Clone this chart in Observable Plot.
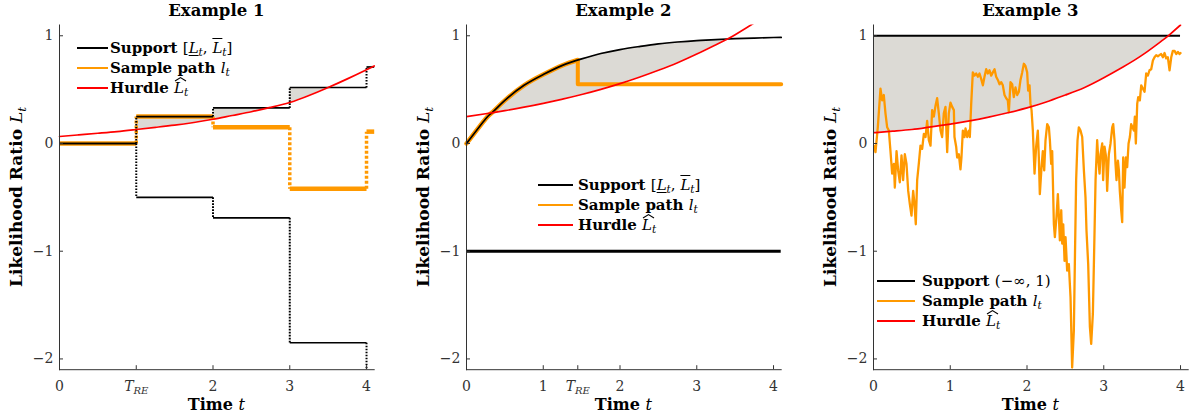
<!DOCTYPE html>
<html><head><meta charset="utf-8">
<script src="https://cdn.jsdelivr.net/npm/d3@7"></script>
<script src="https://cdn.jsdelivr.net/npm/@observablehq/plot@0.6"></script>
<style>
body{margin:0;background:#fff;width:1189px;height:420px;overflow:hidden;position:relative;font-family:"DejaVu Serif",serif;color:#000}
.panel{position:absolute;top:0}
.lbl{position:absolute;font-weight:bold;white-space:nowrap;line-height:18px}
.m{font-weight:normal}
.m i{font-style:italic}
.ul{font-style:italic;text-decoration:underline;text-decoration-thickness:1px;text-underline-offset:2px}
.ol{font-style:italic;text-decoration:overline;text-decoration-thickness:1px}
sub{font-size:0.7em;vertical-align:-0.3em;line-height:0;font-style:italic}
.hat{position:relative;display:inline-block;font-style:italic}
.hat svg{position:absolute;left:1px;top:-2px;width:11px;height:4px;overflow:visible}
.sw{position:absolute;height:2px}
</style>
</head><body>
<script>
// ---------- shared scales / ticks ----------
const xDomain = [0, 4.1];
const yDomain = [-2.1, 1.1];
const yTicks = [-2, -1, 0, 1];
const yTickLabels = ["−2", "−1", "0", "1"];
const titles = ["Example 1", "Example 2", "Example 3"];

// ---------- Example 1 ----------
const stepT1 = [0, 1, 2, 3, 4];
const stepEnd1 = 4.1;
const upper1 = [0, 0.25, 0.33, 0.52, 0.71];
const lower1 = [0, -0.5, -0.69, -1.85, -2.6];
const path1 = [0, 0.25, 0.15, -0.42, 0.11];
const hurdleT1 = [0, 0.25, 0.5, 0.75, 1, 1.25, 1.5, 1.75, 2, 2.25, 2.5, 2.75, 3, 3.25, 3.5, 3.75, 4, 4.1];
const hurdle1 = [0.065, 0.08, 0.095, 0.11, 0.13, 0.15, 0.17, 0.195, 0.225, 0.26, 0.295, 0.335, 0.38, 0.445, 0.52, 0.6, 0.685, 0.72];
const xTicks1 = [0, 1, 2, 3, 4];
const xTickLabels1 = ["0", "T_RE", "2", "3", "4"];

// ---------- Example 2 ----------
const gridT2 = [0, 0.25, 0.33, 0.5, 0.75, 1, 1.25, 1.5, 1.75, 2, 2.25, 2.5, 2.75, 3, 3.25, 3.4, 3.5, 3.75, 4, 4.1];
const upper2 = [0, 0.23, 0.285, 0.40, 0.54, 0.64, 0.725, 0.785, 0.835, 0.872, 0.90, 0.925, 0.942, 0.955, 0.965, 0.97, 0.973, 0.979, 0.984, 0.985];
const hurdle2 = [0.25, 0.276, 0.285, 0.305, 0.337, 0.373, 0.412, 0.455, 0.503, 0.556, 0.615, 0.68, 0.75, 0.83, 0.917, 0.97, 1.01, 1.12, 1.24, 1.29];
const lower2 = -1;
const tRE2 = 1.45;
const pathPeak2 = 0.775;
const pathLevel2 = 0.55;
const xTicks2 = [0, 1, 1.45, 2, 3, 4];
const xTickLabels2 = ["0", "1", "T_RE", "2", "3", "4"];

// ---------- Example 3 ----------
const upper3 = 1;
const endT3 = 4;
const hurdleT3 = [0, 0.25, 0.5, 0.75, 1, 1.25, 1.5, 1.75, 2, 2.25, 2.5, 2.75, 3, 3.25, 3.5, 3.75, 3.84, 4];
const hurdle3 = [0.10, 0.115, 0.13, 0.155, 0.18, 0.21, 0.245, 0.285, 0.33, 0.385, 0.45, 0.52, 0.61, 0.71, 0.82, 0.95, 1.0, 1.10];
const path3T = [0.004,0.026,0.056,0.091,0.113,0.134,0.156,0.178,0.2,0.221,0.243,0.265,0.278,0.3,0.321,0.343,0.365,0.386,0.408,0.43,0.452,0.473,0.495,0.517,0.534,0.551,0.569,0.59,0.612,0.634,0.656,0.678,0.699,0.721,0.743,0.764,0.786,0.808,0.829,0.851,0.873,0.894,0.916,0.938,0.96,0.981,1.003,1.025,1.047,1.055,1.077,1.09,1.112,1.133,1.146,1.164,1.185,1.199,1.221,1.242,1.255,1.273,1.294,1.316,1.338,1.36,1.381,1.403,1.425,1.446,1.468,1.49,1.511,1.533,1.555,1.577,1.598,1.62,1.642,1.663,1.685,1.707,1.729,1.75,1.763,1.785,1.807,1.828,1.85,1.872,1.894,1.915,1.937,1.959,1.98,2.002,2.015,2.033,2.045,2.059,2.076,2.098,2.119,2.141,2.154,2.167,2.189,2.206,2.224,2.241,2.263,2.285,2.298,2.315,2.328,2.35,2.363,2.384,2.402,2.415,2.428,2.446,2.459,2.472,2.489,2.502,2.523,2.545,2.567,2.588,2.61,2.623,2.64,2.658,2.675,2.697,2.719,2.741,2.762,2.775,2.797,2.819,2.836,2.858,2.88,2.893,2.914,2.927,2.945,2.958,2.98,2.992,3.01,3.031,3.044,3.066,3.088,3.11,3.123,3.14,3.153,3.166,3.184,3.197,3.209,3.227,3.24,3.253,3.27,3.288,3.305,3.323,3.34,3.357,3.375,3.392,3.405,3.418,3.436,3.449,3.47,3.488,3.509,3.531,3.553,3.574,3.596,3.618,3.64,3.661,3.683,3.705,3.726,3.748,3.77,3.792,3.813,3.835,3.857,3.879,3.9,3.922,3.944,3.966,3.987,4.0];
const path3Y = [-0.02,-0.08,0.15,0.51,0.40,0.45,0.28,0.15,0.12,-0.07,-0.28,-0.19,-0.41,-0.07,-0.25,-0.36,-0.11,-0.34,-0.10,-0.19,-0.44,-0.56,-0.67,-0.44,-0.56,-0.75,-0.34,-0.19,-0.02,-0.05,0.09,0.06,0.21,0.03,-0.02,0.31,0.25,0.35,0.42,0.28,0.12,0.06,0.28,0.34,-0.08,0.28,0.38,0.34,0.31,0.06,-0.03,-0.13,-0.10,-0.24,-0.13,0.12,0.06,0.14,0.06,0.12,0.06,0.37,0.66,0.63,0.65,0.62,0.65,0.60,0.54,0.62,0.69,0.65,0.68,0.63,0.66,0.69,0.62,0.59,0.55,0.57,0.54,0.45,0.42,0.40,0.29,0.57,0.55,0.43,0.52,0.45,0.48,0.59,0.66,0.74,0.72,0.66,0.49,0.54,0.37,0.31,0.12,-0.28,-0.03,0.12,-0.13,-0.47,-0.22,-0.07,-0.25,0.03,0.18,0.15,0.03,-0.19,-0.07,-0.75,-0.87,-0.68,-0.47,-0.68,-0.90,-0.62,-0.93,-0.75,-1.09,-0.87,-1.18,-1.12,-1.43,-2.08,-1.74,-1.12,-0.34,0.03,0.15,0.12,0.06,-0.25,-0.50,-0.81,-1.12,-1.70,-1.86,-1.58,-0.81,-0.34,0.03,-0.13,-0.28,-0.10,0.00,-0.34,-0.03,-0.13,-0.44,-0.10,0.00,0.15,0.18,0.03,-0.19,-0.34,-0.16,-0.25,-0.44,-0.62,-0.73,-0.13,-0.41,-0.13,-0.22,0.00,0.06,0.18,0.15,0.12,0.25,0.00,0.37,0.43,0.40,0.54,0.51,0.48,0.65,0.63,0.68,0.69,0.77,0.80,0.82,0.81,0.82,0.83,0.80,0.84,0.79,0.80,0.68,0.80,0.86,0.86,0.83,0.85,0.83,0.84];
const xTicks3 = [0, 1, 2, 3, 4];
const xTickLabels3 = ["0", "1", "2", "3", "4"];

// ---------- style ----------
const BLACK = "#000", ORANGE = "#ff9900", RED = "#ff0000", GRAY = "#dcdad5", AX = "#333";
const layout = [
  {left: 0, width: 396, ml: 59, mr: 22.3},
  {left: 396, width: 397, ml: 70, mr: 12.3},
  {left: 793, width: 396, ml: 80, mr: 1.3}
];
const MT = 24.5, MB = 50.8, H = 420;

function segs(vals, starts, end) {
  return vals.map((v, i) => ({x1: starts[i], x2: i < vals.length - 1 ? starts[i + 1] : end, y: v}));
}
function jumps(vals, starts) {
  return vals.slice(1).map((v, i) => ({x: starts[i + 1], y1: vals[i], y2: v}));
}
function stepAt(t, starts, vals) {
  let k = 0;
  starts.forEach((s, j) => { if (s <= t) k = j; });
  return vals[k];
}

// ---------- derived tables ----------
const area1 = [];
hurdleT1.forEach((t, i) => {
  const h = hurdle1[i];
  const k = stepT1.indexOf(t);
  if (k > 0) area1.push({t, y1: h, y2: Math.max(h, upper1[k - 1])});
  area1.push({t, y1: h, y2: Math.max(h, stepAt(t, stepT1, upper1))});
});
const hurdleData1 = hurdleT1.map((t, i) => ({t, y: hurdle1[i]}));

const upperData2 = gridT2.map((t, i) => ({t, y: upper2[i]}));
const hurdleData2 = gridT2.map((t, i) => ({t, y: hurdle2[i]}));
const area2 = gridT2.map((t, i) => ({t, y1: hurdle2[i], y2: Math.max(hurdle2[i], upper2[i])}));
const pathCurve2 = upperData2.filter(d => d.t < tRE2).concat([{t: tRE2, y: pathPeak2}]);
const pathStep2 = [{t: tRE2, y: pathPeak2}, {t: tRE2, y: pathLevel2}, {t: xDomain[1], y: pathLevel2}];

const hurdleData3 = hurdleT3.map((t, i) => ({t, y: hurdle3[i]}));
const area3 = hurdleT3.map((t, i) => ({t, y1: hurdle3[i], y2: Math.max(hurdle3[i], upper3)}));
const pathData3 = path3T.map((t, i) => ({t, y: path3Y[i]}));

const dotB = {stroke: BLACK, strokeWidth: 2, strokeDasharray: "1.6,1.4"};
const dotO = {stroke: ORANGE, strokeWidth: 3.5, strokeDasharray: "3,2"};

const marks1 = [
  Plot.areaY(area1, {x: "t", y1: "y1", y2: "y2", fill: GRAY}),
  Plot.link(segs(path1, stepT1, stepEnd1), {x1: "x1", x2: "x2", y1: "y", y2: "y", stroke: ORANGE, strokeWidth: 4.5}),
  Plot.link(jumps(path1, stepT1), {x1: "x", x2: "x", y1: "y1", y2: "y2", ...dotO}),
  Plot.link(jumps(upper1, stepT1), {x1: "x", x2: "x", y1: "y1", y2: "y2", ...dotB}),
  Plot.link(jumps(lower1, stepT1), {x1: "x", x2: "x", y1: "y1", y2: "y2", ...dotB, clip: true}),
  Plot.link(segs(upper1, stepT1, stepEnd1), {x1: "x1", x2: "x2", y1: "y", y2: "y", stroke: BLACK, strokeWidth: 1.7}),
  Plot.link(segs(lower1, stepT1, stepEnd1), {x1: "x1", x2: "x2", y1: "y", y2: "y", stroke: BLACK, strokeWidth: 1.7, clip: true}),
  Plot.line(hurdleData1, {x: "t", y: "y", stroke: RED, strokeWidth: 1.7, curve: "natural"})
];
const marks2 = [
  Plot.areaY(area2, {x: "t", y1: "y1", y2: "y2", fill: GRAY, clip: true}),
  Plot.ruleY([lower2], {stroke: BLACK, strokeWidth: 3}),
  Plot.line(pathCurve2, {x: "t", y: "y", stroke: ORANGE, strokeWidth: 4.5, curve: "natural"}),
  Plot.line(pathStep2, {x: "t", y: "y", stroke: ORANGE, strokeWidth: 4}),
  Plot.line(upperData2, {x: "t", y: "y", stroke: BLACK, strokeWidth: 1.7, curve: "natural"}),
  Plot.line(hurdleData2, {x: "t", y: "y", stroke: RED, strokeWidth: 1.7, curve: "natural", clip: true})
];
const marks3 = [
  Plot.areaY(area3, {x: "t", y1: "y1", y2: "y2", fill: GRAY}),
  Plot.ruleY([upper3], {x1: 0, x2: endT3, stroke: BLACK, strokeWidth: 2}),
  Plot.line(pathData3, {x: "t", y: "y", stroke: ORANGE, strokeWidth: 2.3, clip: true}),
  Plot.line(hurdleData3, {x: "t", y: "y", stroke: RED, strokeWidth: 1.7, curve: "natural", clip: true})
];

function panel(i, marks, xTicks, xLabels) {
  const L = layout[i];
  const xl = new Map(xTicks.map((v, j) => [v, xLabels[j]]));
  const yl = new Map(yTicks.map((v, j) => [v, yTickLabels[j]]));
  const svg = Plot.plot({
    width: L.width, height: H,
    marginLeft: L.ml, marginRight: L.mr, marginTop: MT, marginBottom: MB,
    x: {domain: xDomain},
    y: {domain: yDomain},
    style: {fontFamily: "DejaVu Serif", fontSize: "14px", color: AX, background: "transparent", overflow: "visible"},
    marks: [
      ...marks,
      Plot.frame({anchor: "left", stroke: AX}),
      Plot.frame({anchor: "bottom", stroke: AX}),
      Plot.axisX(xTicks, {tickSize: -4, tickPadding: 15, tickFormat: d => xl.get(d), label: null, stroke: AX, fill: AX}),
      Plot.axisY(yTicks, {tickSize: -4, tickPadding: 10, tickFormat: d => yl.get(d), label: null, stroke: AX, fill: AX})
    ]
  });
  svg.classList.add("panel");
  svg.style.left = L.left + "px";
  const ns = "http://www.w3.org/2000/svg";
  svg.querySelectorAll('g[aria-label="x-axis tick label"] text').forEach(el => {
    if (el.textContent === "T_RE") {
      el.textContent = "";
      const a = document.createElementNS(ns, "tspan");
      a.textContent = "T"; a.setAttribute("font-style", "italic");
      const b = document.createElementNS(ns, "tspan");
      b.textContent = "RE"; b.setAttribute("font-style", "italic");
      b.setAttribute("font-size", "10"); b.setAttribute("dy", "3");
      el.append(a, b);
    }
  });
  document.body.appendChild(svg);
  return svg;
}
panel(0, marks1, xTicks1, xTickLabels1);
panel(1, marks2, xTicks2, xTickLabels2);
panel(2, marks3, xTicks3, xTickLabels3);

// ---------- text overlays ----------
function addText(html, x, y, size, anchor, rotate) {
  const d = document.createElement("div");
  d.className = "lbl";
  d.innerHTML = html;
  d.style.fontSize = size + "px";
  d.style.left = x + "px";
  d.style.top = y + "px";
  const tx = anchor === "middle" ? "-50%" : "0";
  d.style.transform = `translate(${tx},-50%)` + (rotate ? " rotate(-90deg)" : "");
  document.body.appendChild(d);
}
const hatL = '<span class="hat">L<svg viewBox="0 0 10 4" preserveAspectRatio="none"><path d="M0,4 L5,0.6 L10,4" fill="none" stroke="#000" stroke-width="1"/></svg></span>';
layout.forEach((L, i) => {
  const fx0 = L.left + L.ml, fx1 = L.left + L.width - L.mr;
  addText(titles[i], (fx0 + fx1) / 2, 10.5, 16.5, "middle");
  addText('Time <span class="m"><i>t</i></span>', (fx0 + fx1) / 2, 404.5, 16, "middle");
  addText('Likelihood Ratio <span class="m"><i>L</i><sub>t</sub></span>', fx0 - 43, (MT + H - MB) / 2, 17, "middle", true);
});

const legendSupport = 'Support <span class="m">[<span class="ul">L</span><sub>t</sub>, <span class="ol">L</span><sub>t</sub>]</span>';
const legendSupport3 = 'Support <span class="m">(−∞, 1)</span>';
const legendPath = 'Sample path <span class="m"><i>l</i><sub>t</sub></span>';
const legendHurdle = 'Hurdle <span class="m">' + hatL + '<sub>t</sub></span>';
const legends = [
  {x0: 77, x1: 108, tx: 110, y: 48, items: [legendSupport, legendPath, legendHurdle]},
  {x0: 538, x1: 573, tx: 578, y: 185, items: [legendSupport, legendPath, legendHurdle]},
  {x0: 877, x1: 915, tx: 922, y: 281, items: [legendSupport3, legendPath, legendHurdle]}
];
const legendColors = [BLACK, ORANGE, RED];
legends.forEach(g => {
  g.items.forEach((html, j) => {
    const y = g.y + j * 20;
    const s = document.createElement("div");
    s.className = "sw";
    s.style.left = g.x0 + "px"; s.style.width = (g.x1 - g.x0) + "px";
    s.style.top = (y - 1) + "px"; s.style.background = legendColors[j];
    document.body.appendChild(s);
    addText(html, g.tx, y, 15, "start");
  });
});
</script>
</body></html>
